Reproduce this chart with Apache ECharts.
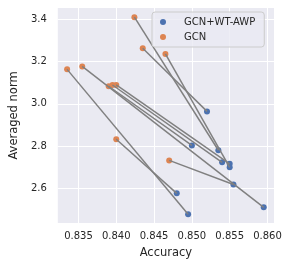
<!DOCTYPE html>
<html><head><meta charset="utf-8">
<script src="https://cdn.jsdelivr.net/npm/echarts@6/dist/echarts.min.js"></script>
<style>html,body{margin:0;padding:0;background:#fff}#c{width:289px;height:268px}</style>
</head><body><div id="c"></div>
<script>
// Pairs by index: GCN point -> GCN+WT-AWP point
var gcnAcc  = [0.8424, 0.8435, 0.8465, 0.8335, 0.8355, 0.8390, 0.8395, 0.8400, 0.8400, 0.8470];
var gcnNorm = [3.410, 3.263, 3.236, 3.163, 3.177, 3.083, 3.089, 3.089, 2.832, 2.732];
var awpAcc  = [0.8535, 0.8520, 0.8550, 0.8495, 0.8595, 0.8500, 0.8540, 0.8550, 0.8480, 0.8555];
var awpNorm = [2.780, 2.964, 2.699, 2.477, 2.510, 2.803, 2.723, 2.716, 2.576, 2.618];
var seriesNames = ['GCN+WT-AWP', 'GCN'];
var xTitle = 'Accuracy', yTitle = 'Averaged norm';

var FONT = 'DejaVu Sans';
var series = [];
for (var i = 0; i < gcnAcc.length; i++) {
  series.push({
    type: 'line', silent: true, symbol: 'none', z: 3,
    data: [[gcnAcc[i], gcnNorm[i]], [awpAcc[i], awpNorm[i]]],
    lineStyle: {color: '#808080', width: 1.5}
  });
}
series.push({
  name: seriesNames[0], type: 'scatter', symbolSize: 6, z: 2,
  itemStyle: {color: '#4C72B0', opacity: 1},
  data: awpAcc.map(function (a, i) { return [a, awpNorm[i]]; })
});
series.push({
  name: seriesNames[1], type: 'scatter', symbolSize: 6, z: 2,
  itemStyle: {color: '#DD8452', opacity: 1},
  data: gcnAcc.map(function (a, i) { return [a, gcnNorm[i]]; })
});

var chart = echarts.init(document.getElementById('c'), null, {renderer: 'canvas'});
chart.setOption({
  animation: false,
  textStyle: {fontFamily: FONT},
  grid: {left: 52, right: 15, top: 8, bottom: 45, show: true, backgroundColor: '#EAEAF2', borderWidth: 0},
  xAxis: {
    type: 'value', min: 0.83227, max: 0.86086, splitNumber: 5,
    name: xTitle, nameLocation: 'middle', nameGap: 24,
    nameTextStyle: {fontFamily: FONT, fontSize: 11.5, color: '#262626'},
    axisLine: {show: false}, axisTick: {show: false},
    axisLabel: {fontFamily: FONT, fontSize: 10, color: '#262626', margin: 8,
      showMinLabel: false, showMaxLabel: false,
      formatter: function (v) { return v.toFixed(3); }},
    splitLine: {show: true, showMinLine: false, showMaxLine: false, lineStyle: {color: '#ffffff', width: 1}}
  },
  yAxis: {
    type: 'value', min: 2.4356, max: 3.4535, splitNumber: 5,
    name: yTitle, nameLocation: 'middle', nameGap: 34,
    nameTextStyle: {fontFamily: FONT, fontSize: 11.5, color: '#262626'},
    axisLine: {show: false}, axisTick: {show: false},
    axisLabel: {fontFamily: FONT, fontSize: 10, color: '#262626', margin: 11,
      showMinLabel: false, showMaxLabel: false,
      formatter: function (v) { return v.toFixed(1); }},
    splitLine: {show: true, showMinLine: false, showMaxLine: false, lineStyle: {color: '#ffffff', width: 1}}
  },
  legend: {
    data: seriesNames, orient: 'vertical', left: 152, top: 12,
    padding: [4, 9, 4, 8], itemGap: 3, itemWidth: 12, itemHeight: 6,
    icon: 'circle',
    backgroundColor: 'rgba(234,234,242,0.8)', borderColor: '#cccccc', borderWidth: 1, borderRadius: 3,
    textStyle: {fontFamily: FONT, fontSize: 10, color: '#262626', lineHeight: 12, padding: [0, 0, 0, 10]}
  },
  series: series
});
</script></body></html>
